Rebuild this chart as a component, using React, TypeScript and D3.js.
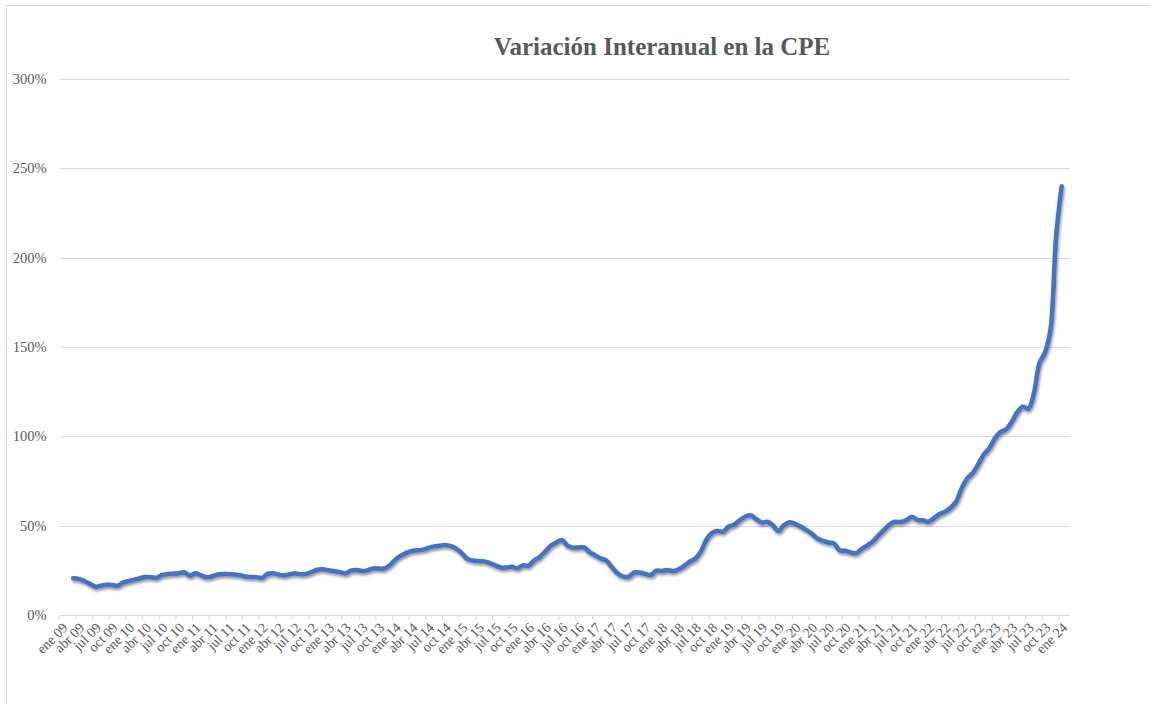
import * as d3 from 'd3';

// ── data: monthly, ene 09 .. feb 24 (182 categories); values start mar 09, end ene 24
const YEARS = ['09', '10', '11', '12', '13', '14', '15', '16', '17', '18', '19', '20', '21', '22', '23', '24'];
const MONTHS = ['ene', 'feb', 'mar', 'abr', 'may', 'jun', 'jul', 'ago', 'sep', 'oct', 'nov', 'dic'];
const FIRST_VALUE_INDEX = 2; // mar 09

// year-over-year variation, %
const VALUES = [
  /* 09 */ 20.5, 20.2, 19.0, 17.5, 15.8, 16.4, 17.0, 16.8, 16.3, 18.2,
  /* 10 */ 19.0, 19.8, 20.6, 21.3, 21.2, 20.8, 22.4, 22.9, 23.1, 23.4, 23.9, 22.1,
  /* 11 */ 23.3, 22.2, 21.1, 21.7, 22.7, 23.0, 22.8, 22.7, 22.3, 21.6, 21.3, 21.2,
  /* 12 */ 20.8, 23.0, 23.4, 22.6, 22.3, 22.8, 23.3, 22.8, 23.0, 24.2, 25.4, 25.6,
  /* 13 */ 25.0, 24.6, 24.0, 23.3, 24.8, 25.2, 24.6, 25.0, 26.1, 26.0, 26.0, 27.8,
  /* 14 */ 31.0, 33.2, 34.8, 35.9, 36.2, 36.6, 37.6, 38.4, 38.8, 39.2, 38.5, 37.0,
  /* 15 */ 34.5, 31.4, 30.5, 30.2, 30.0, 29.0, 27.8, 26.6, 26.6, 27.0, 26.2, 27.8,
  /* 16 */ 27.6, 30.5, 32.5, 35.5, 38.8, 40.6, 42.0, 38.8, 37.7, 37.8, 37.8, 35.2,
  /* 17 */ 33.4, 31.6, 30.5, 26.8, 23.4, 21.6, 21.4, 23.8, 23.8, 23.0, 22.4, 24.8,
  /* 18 */ 24.6, 25.2, 24.6, 25.6, 27.5, 29.8, 31.5, 35.5, 42.0, 45.8, 47.0, 46.6,
  /* 19 */ 49.4, 50.5, 53.0, 55.0, 55.8, 53.6, 51.7, 52.2, 50.2, 47.0, 50.4, 51.9,
  /* 20 */ 51.0, 49.5, 47.6, 45.5, 42.8, 41.5, 40.6, 40.1, 36.2, 36.0, 35.0, 34.6,
  /* 21 */ 37.0, 39.0, 41.2, 44.5, 47.6, 50.6, 52.2, 52.0, 53.0, 55.0, 53.2, 53.0,
  /* 22 */ 52.2, 54.2, 56.5, 57.8, 60.0, 63.5, 71.0, 76.5, 79.5, 84.5, 90.0, 93.5,
  /* 23 */ 99.0, 102.5, 104.0, 108.0, 113.5, 116.6, 115.5, 124.0, 141.0, 147.0, 160.0, 212.0,
  /* 24 */ 240.0,
];

const Y_TICKS = [0, 50, 100, 150, 200, 250, 300];
const LABELED_MONTHS = ['ene', 'abr', 'jul', 'oct'];
const TITLE = 'Variación Interanual en la CPE';

// categories built from years × months, cut at feb 24
const CATEGORIES = YEARS.flatMap(y => MONTHS.map(m => `${m} ${y}`)).slice(0, 182);
const POINTS = VALUES.map((v, i) => ({ cat: CATEGORIES[i + FIRST_VALUE_INDEX], v }));

const W = 1150, H = 704;
const LEFT = 59.3, RIGHT = 1070, TOP = 79, BOTTOM = 615;
const FONT = '"Liberation Serif", "Times New Roman", Times, serif';
const GREY = '#d9d9d9';
const TEXT = '#595959';

export default function App() {
  const x = d3.scaleBand<string>().domain(CATEGORIES).range([LEFT, RIGHT]).paddingInner(0).paddingOuter(0);
  const y = d3.scaleLinear().domain([0, 300]).range([BOTTOM, TOP]);
  const cx = (c: string) => (x(c) ?? 0) + x.bandwidth() / 2;

  const line = d3.line<{ cat: string; v: number }>()
    .x(d => cx(d.cat))
    .y(d => y(d.v))
    .curve(d3.curveCatmullRom.alpha(0.5));

  const tickCats = CATEGORIES.filter((_, i) => i % 3 === 0);
  const labelCats = CATEGORIES.filter(c => LABELED_MONTHS.includes(c.split(' ')[0]));

  return (
    <div style={{ position: 'absolute', left: 0, top: 0, width: W, height: H, background: '#fff' }}>
      <svg width={W} height={H} style={{ display: 'block' }}>
        <defs>
          <filter id="shadow" x="-10%" y="-10%" width="120%" height="130%">
            <feGaussianBlur in="SourceAlpha" stdDeviation="1.6" />
            <feOffset dx="1" dy="2" result="off" />
            <feComponentTransfer>
              <feFuncA type="linear" slope="0.45" />
            </feComponentTransfer>
            <feMerge>
              <feMergeNode />
              <feMergeNode in="SourceGraphic" />
            </feMerge>
          </filter>
        </defs>

        {/* chart frame */}
        <rect x={6.5} y={5.5} width={W + 10} height={H + 10} fill="none" stroke={GREY} strokeWidth={1} />

        <text x={662} y={55} textAnchor="middle" fontFamily={FONT} fontWeight="bold" fontSize={25} fill={TEXT}>
          {TITLE}
        </text>

        {/* gridlines + y labels */}
        {Y_TICKS.map(t => (
          <g key={t}>
            <line x1={LEFT} x2={RIGHT} y1={Math.round(y(t)) + 0.5} y2={Math.round(y(t)) + 0.5} stroke={GREY} strokeWidth={1} />
            <text x={46.5} y={y(t)} dy="0.35em" textAnchor="end" fontFamily={FONT} fontSize={14.5} fill={TEXT}>
              {`${t}%`}
            </text>
          </g>
        ))}

        {/* x tick marks */}
        {tickCats.map(c => (
          <line key={c} x1={x(c)} x2={x(c)} y1={BOTTOM} y2={BOTTOM + 5} stroke={GREY} strokeWidth={1} />
        ))}

        {/* x labels */}
        {labelCats.map(c => (
          <text
            key={c}
            transform={`translate(${cx(c) + 3},${BOTTOM + 10}) rotate(-45)`}
            dy="0.35em"
            textAnchor="end"
            fontFamily={FONT}
            fontSize={14}
            fill={TEXT}
          >
            {c}
          </text>
        ))}

        <path d={line(POINTS) ?? ''} fill="none" stroke="#4472C4" strokeWidth={4.5} strokeLinejoin="round" strokeLinecap="round" filter="url(#shadow)" />
      </svg>
    </div>
  );
}
